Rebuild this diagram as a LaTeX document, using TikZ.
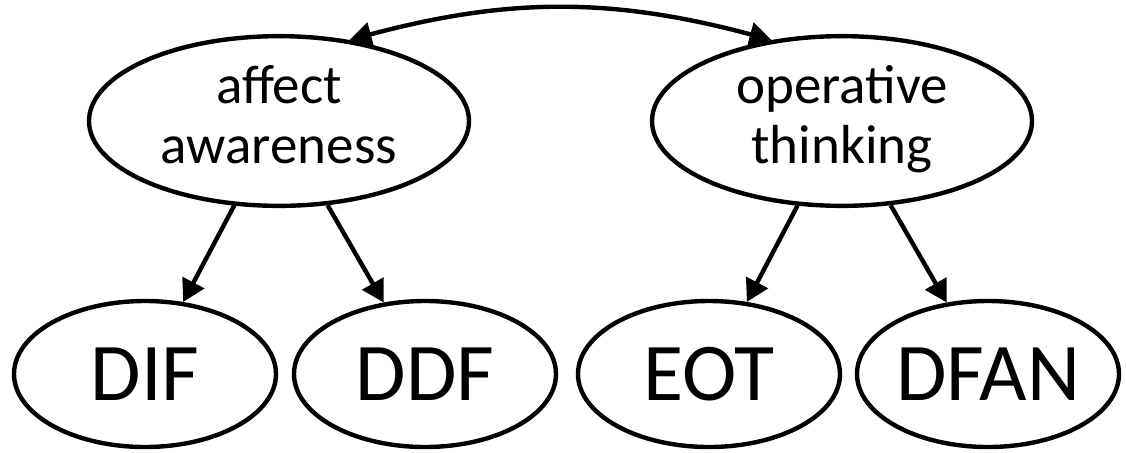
\documentclass[tikz,border=0pt]{standalone}
\usepackage{fontspec}
\setmainfont{Carlito}
\usetikzlibrary{shapes}
\usetikzlibrary{arrows.meta}
\tikzstyle{Topstate}=[shape=ellipse,draw=black,line width=2.2pt,inner sep=0pt,minimum width=190pt,minimum height=72pt,align=center,font=\fontsize{27.5}{30}\selectfont]
\tikzstyle{Substate}=[shape=ellipse,draw=black,line width=2.2pt,inner sep=0pt,minimum width=131pt,minimum height=73pt,font=\fontsize{41}{48}\selectfont]
\tikzstyle{heavyedge}=[-{Triangle[length=11pt,width=12pt]},line width=2.2pt]

\begin{document}
\begin{tikzpicture}[x=0.5pt,y=-0.5pt]
 \useasboundingbox (0,0) rectangle (1126,452);

 \node[Topstate] (aff) at (279,121) {\strut affect\\awareness\strut};
 \node[Topstate] (oper) at (842,121) {\strut operative\\thinking\strut};

 \node[Substate] (dif) at (145,374) {DIF};
 \node[Substate] (ddf) at (425,374) {DDF};
 \node[Substate] (eot) at (709,374) {EOT};
 \node[Substate] (dfan) at (988,374) {DFAN};

\path
(aff.49) edge [heavyedge,{Triangle[length=11pt,width=12pt]}-{Triangle[length=11pt,width=12pt]},bend left=15] (oper.131)

(aff) edge [heavyedge] (dif)
(aff) edge [heavyedge] (ddf)

(oper) edge [heavyedge] (eot)
(oper) edge [heavyedge] (dfan);

\end{tikzpicture}
\end{document}
